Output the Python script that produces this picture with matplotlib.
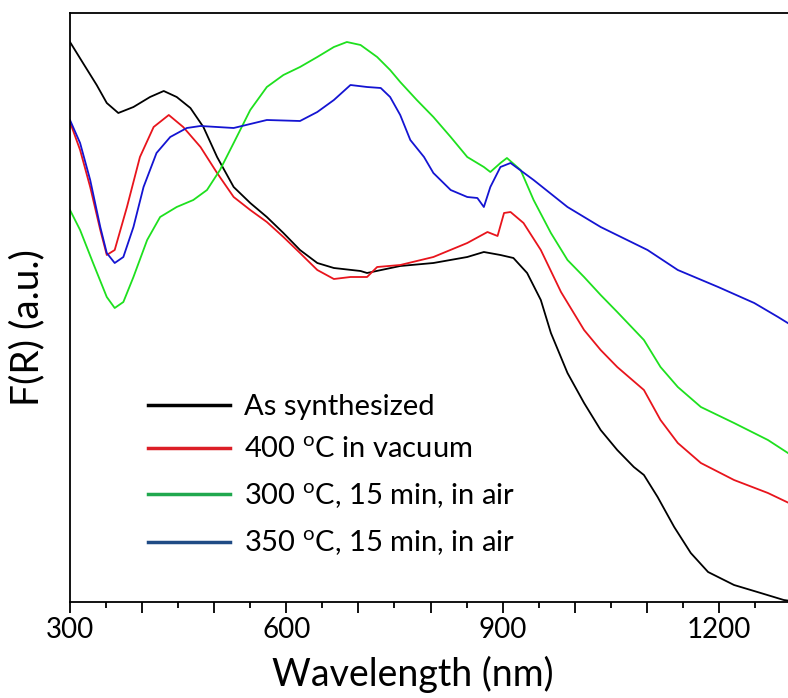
import numpy as np
import matplotlib
matplotlib.use('Agg')
import matplotlib.pyplot as plt
from matplotlib.lines import Line2D
from matplotlib.ticker import MultipleLocator, FuncFormatter

plt.rcParams['font.family'] = ['Lato', 'DejaVu Sans']
plt.rcParams['mathtext.fontset'] = 'custom'
plt.rcParams['mathtext.rm'] = 'Lato'

# Diffuse reflectance spectra, F(R) in arbitrary units
wl_black = [300, 318, 337, 351, 367, 388, 411, 430, 448, 467, 485, 504, 527, 550, 573, 596,
            619, 643, 666, 703, 712, 758, 804, 851, 874, 897, 915, 934, 953, 967, 990, 1013,
            1036, 1059, 1082, 1096, 1115, 1138, 1161, 1185, 1221, 1258, 1290, 1300]
fr_black = [560, 539, 517, 499, 489, 495, 505, 511, 505, 494, 475, 445, 415, 399, 385, 369,
            352, 339, 334, 331, 329, 336, 339, 345, 350, 347, 344, 329, 302, 269, 229, 199,
            172, 152, 135, 127, 105, 75, 49, 30, 17, 9, 2, 1]

wl_red = [300, 314, 328, 342, 351, 362, 379, 397, 416, 437, 457, 481, 504, 527, 550, 573,
          596, 619, 643, 666, 689, 712, 726, 758, 804, 851, 879, 893, 902, 911, 929, 953,
          981, 1013, 1036, 1059, 1096, 1119, 1143, 1175, 1221, 1268, 1300]
fr_red = [480, 452, 415, 372, 347, 352, 395, 445, 475, 487, 475, 455, 429, 405, 392, 380,
          365, 349, 332, 323, 325, 325, 335, 337, 345, 359, 370, 366, 389, 390, 379, 352,
          310, 272, 252, 235, 212, 182, 159, 139, 122, 109, 98]

wl_green = [300, 314, 332, 351, 362, 374, 388, 407, 425, 448, 471, 490, 508, 527, 550, 573,
            596, 619, 643, 666, 684, 703, 726, 744, 758, 781, 804, 828, 851, 874, 883, 897,
            906, 925, 943, 967, 990, 1013, 1036, 1059, 1096, 1119, 1143, 1175, 1221, 1268, 1300]
fr_green = [392, 372, 339, 305, 294, 300, 325, 362, 385, 395, 402, 412, 432, 459, 492, 515,
            527, 535, 545, 555, 560, 557, 545, 532, 520, 502, 485, 465, 445, 435, 430, 439,
            444, 432, 402, 369, 342, 325, 307, 290, 262, 235, 215, 195, 179, 162, 147]

wl_blue = [300, 314, 328, 342, 351, 362, 374, 388, 402, 420, 439, 462, 481, 527, 573, 619,
           643, 666, 689, 712, 731, 744, 758, 772, 791, 804, 828, 851, 865, 874, 883, 897,
           911, 943, 990, 1036, 1101, 1143, 1199, 1249, 1282, 1300]
fr_blue = [482, 459, 422, 375, 349, 339, 345, 375, 415, 449, 465, 474, 476, 474, 482, 481,
           490, 502, 517, 515, 514, 505, 487, 462, 445, 429, 412, 405, 404, 395, 415, 435,
           439, 422, 395, 375, 352, 332, 315, 299, 285, 277]

labels = ['As synthesized', r'400 $^{\rm o}$C in vacuum',
          r'300 $^{\rm o}$C, 15 min, in air', r'350 $^{\rm o}$C, 15 min, in air']
curve_colors = ['#000000', '#e8141c', '#1ee01e', '#1414d2']
legend_colors = ['#000000', '#dc1e26', '#20a84e', '#1f4b85']

fig = plt.figure(figsize=(7.88, 6.98), dpi=100)
ax = fig.add_axes([70 / 788, 1 - 602 / 698, 721 / 788, 589 / 698])

series = [(wl_black, fr_black), (wl_red, fr_red), (wl_green, fr_green), (wl_blue, fr_blue)]
for (wl, fr), c in zip(series, curve_colors):
    ax.plot(wl, fr, color=c, lw=1.3)

ax.set_xlim(300, 1300)
ax.set_ylim(0, 589)
ax.set_yticks([])
ax.spines['right'].set_visible(False)
for s in ['left', 'top', 'bottom']:
    ax.spines[s].set_linewidth(1.3)

ax.xaxis.set_major_locator(MultipleLocator(100))
ax.xaxis.set_minor_locator(MultipleLocator(50))
ax.xaxis.set_major_formatter(FuncFormatter(lambda v, p: f'{int(round(v))}' if int(round(v)) % 300 == 0 else ''))
ax.tick_params(axis='x', which='major', direction='out', length=8, width=1.3, labelsize=20, pad=3)
ax.tick_params(axis='x', which='minor', direction='out', length=4, width=1.3)

ax.set_xlabel('Wavelength (nm)', fontsize=27)
ax.xaxis.set_label_coords((413 - 70) / 721, (602 - 656) / 589)
ax.set_ylabel('F(R) (a.u.)', fontsize=28)
ax.yaxis.set_label_coords((45 - 70) / 721, (602 - 328) / 589)

handles = [Line2D([], [], color=c, lw=2.5) for c in legend_colors]
ax.legend(handles, labels, loc='upper left', bbox_to_anchor=(148 / 788, 1 - 394 / 698),
          bbox_transform=fig.transFigure, frameon=False, fontsize=21, handlelength=2.8,
          handletextpad=0.5, labelspacing=0.6, borderpad=0, borderaxespad=0)

fig.savefig('out.png', dpi=100)
